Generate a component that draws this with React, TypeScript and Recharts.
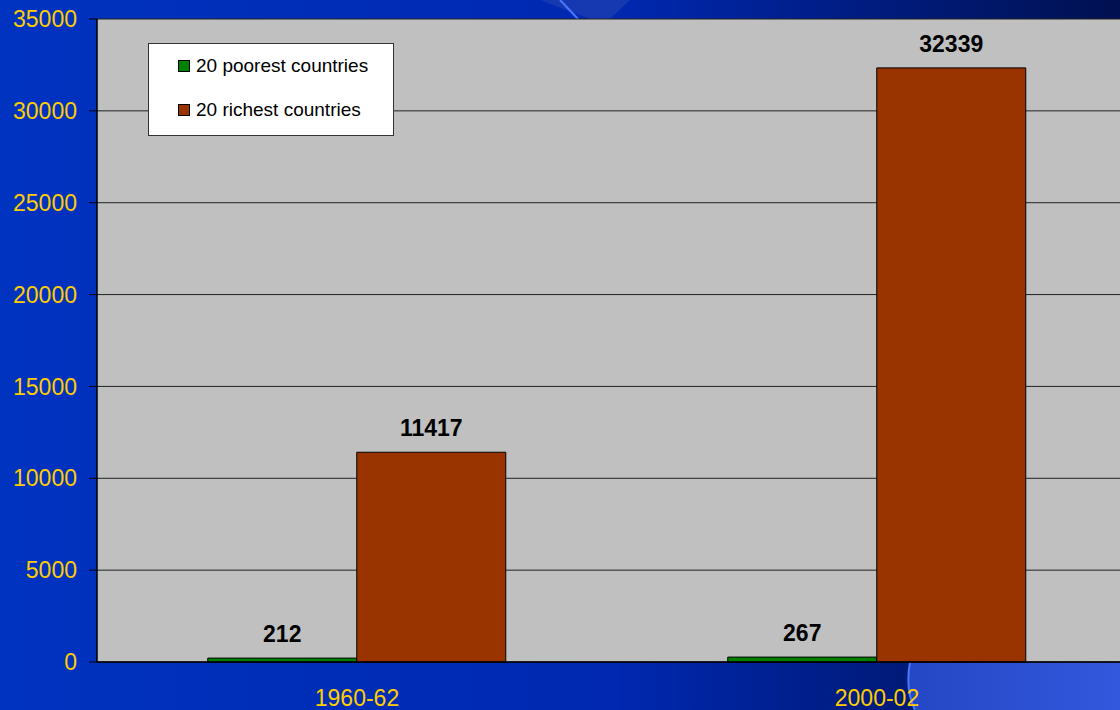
import React from "react"
import { BarChart, Bar, XAxis, YAxis, CartesianGrid, LabelList } from "recharts"

const periods = ["1960-62", "2000-02"]
const poorest = [212, 267]
const richest = [11417, 32339]
const yTicks = [0, 5000, 10000, 15000, 20000, 25000, 30000, 35000]

const data = periods.map((p, i) => ({ period: p, poorest: poorest[i], richest: richest[i] }))

const font = "'Liberation Sans', Arial, sans-serif"
const yellow = "#FFCC00"

function LegendBox() {
  const items = [
    { label: "20 poorest countries", color: "#008000" },
    { label: "20 richest countries", color: "#993300" },
  ]
  return (
    <div
      style={{
        position: "absolute",
        left: 148,
        top: 43,
        width: 246,
        height: 93,
        background: "#fff",
        border: "1px solid #333",
        boxSizing: "border-box",
        fontFamily: font,
        fontSize: 19,
        color: "#000",
        paddingTop: 11,
      }}
    >
      {items.map((it) => (
        <div key={it.label} style={{ display: "flex", alignItems: "center", height: 22, marginBottom: 22, paddingLeft: 29 }}>
          <span style={{ width: 10, height: 10, background: it.color, border: "1px solid #000", marginRight: 6, display: "inline-block" }} />
          {it.label}
        </div>
      ))}
    </div>
  )
}

function Background() {
  return (
    <svg width={1120} height={710} style={{ position: "absolute", left: 0, top: 0 }}>
      <defs>
        <linearGradient id="bg" x1="0" y1="0" x2="1" y2="0">
          <stop offset="0" stopColor="#0033C0" />
          <stop offset="0.55" stopColor="#0028B0" />
          <stop offset="1" stopColor="#001050" />
        </linearGradient>
        <linearGradient id="glow" x1="0" y1="0" x2="1" y2="0">
          <stop offset="0" stopColor="#2447C4" />
          <stop offset="1" stopColor="#3358DD" />
        </linearGradient>
      </defs>
      <rect width={1120} height={710} fill="url(#bg)" />
      <path d="M 910 662 Q 905 690 915 710 L 1120 710 L 1120 662 Z" fill="url(#glow)" />
      <path d="M 910 662 Q 905 690 915 710" stroke="#4A78FF" strokeWidth={2} fill="none" />
      <path d="M 540 0 L 630 0 L 610 19 L 590 19 Z" fill="#1C3CB0" opacity={0.8} />
      <line x1={560} y1={0} x2={578} y2={19} stroke="#4A78FF" strokeWidth={2} />
    </svg>
  )
}

const labelStyle = { fill: "#000", fontSize: 23, fontWeight: "bold", fontFamily: font }

export default function App() {
  return (
    <div style={{ position: "absolute", left: 0, top: 0, width: 1120, height: 710, overflow: "hidden" }}>
      <Background />
      <div style={{ position: "absolute", left: 0, top: 0 }}>
        <BarChart
          width={1140}
          height={710}
          data={data}
          margin={{ top: 19, right: 3, bottom: 0, left: 0 }}
          barCategoryGap="21.3%"
          barGap={0}
        >
          <CartesianGrid vertical={false} fill="#C0C0C0" stroke="#222" strokeOpacity={1} />
          <XAxis
            dataKey="period"
            height={48}
            axisLine={{ stroke: "#000", strokeWidth: 1.5 }}
            tickLine={false}
            tick={{ fill: yellow, fontSize: 23, fontFamily: font }}
            tickMargin={22}
          />
          <YAxis
            width={97}
            domain={[0, 35000]}
            ticks={yTicks}
            interval={0}
            axisLine={{ stroke: "#000", strokeWidth: 1.5 }}
            tickLine={{ stroke: "#000" }}
            tickSize={8}
            tickMargin={12}
            tick={{ fill: yellow, fontSize: 23, fontFamily: font }}
          />
          <Bar dataKey="poorest" fill="#008000" stroke="#000" strokeWidth={1} isAnimationActive={false}>
            <LabelList dataKey="poorest" position="top" offset={16} style={labelStyle} />
          </Bar>
          <Bar dataKey="richest" fill="#993300" stroke="#000" strokeWidth={1} isAnimationActive={false}>
            <LabelList dataKey="richest" position="top" offset={16} style={labelStyle} />
          </Bar>
        </BarChart>
      </div>
      <LegendBox />
    </div>
  )
}
